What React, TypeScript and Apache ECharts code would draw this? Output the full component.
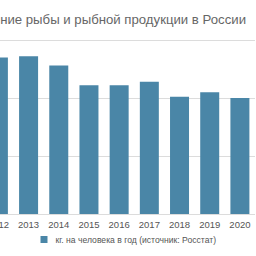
import React, { useEffect, useRef } from "react";
import * as echarts from "echarts";

const years = ["2012", "2013", "2014", "2015", "2016", "2017", "2018", "2019", "2020"];
const kgPerPerson = [23.5, 23.6, 22.8, 21.1, 21.1, 21.4, 20.1, 20.5, 20.0];
const titleText = "Потребление рыбы и рыбной продукции в России";
const seriesName = "кг. на человека в год (источник: Росстат)";

export default function App() {
  const ref = useRef<HTMLDivElement>(null);
  useEffect(() => {
    if (!ref.current) return;
    const chart = echarts.init(ref.current, null, { renderer: "svg" });
    chart.setOption({
      animation: false,
      textStyle: { fontFamily: "Liberation Sans, Arial, sans-serif" },
      title: {
        text: titleText,
        right: 10,
        top: 13,
        padding: 0,
        textStyle: { fontSize: 13.2, fontWeight: "normal", color: "#666" },
      },
      legend: {
        left: 100.5,
        top: 235,
        itemWidth: 7,
        itemHeight: 7,
        itemGap: 6,
        padding: 0,
        textStyle: { fontSize: 8.6, color: "#555", padding: [0, 0, 0, 3] },
        data: [{ name: seriesName, icon: "rect" }],
      },
      grid: { left: 43.3, right: 1, top: 40, bottom: 42 },
      xAxis: {
        type: "category",
        data: years,
        axisTick: { show: false },
        axisLine: { show: false },
        axisLabel: { fontSize: 9.5, color: "#555", margin: 5, interval: 0 },
      },
      yAxis: {
        type: "value",
        min: 10,
        max: 25,
        interval: 5,
        axisLabel: { show: false },
        splitLine: { lineStyle: { color: "#dcdcdc", width: 1 } },
      },
      series: [
        {
          name: seriesName,
          type: "bar",
          data: kgPerPerson,
          barWidth: 19,
          itemStyle: { color: "#4a86a7" },
        },
      ],
    });
    return () => chart.dispose();
  }, []);
  return (
    <div style={{ position: "fixed", left: 0, top: 0, width: 256, height: 256, overflow: "hidden", background: "#fff" }}>
      <div ref={ref} style={{ position: "absolute", left: -60, top: 0, width: 316, height: 256 }} />
    </div>
  );
}
